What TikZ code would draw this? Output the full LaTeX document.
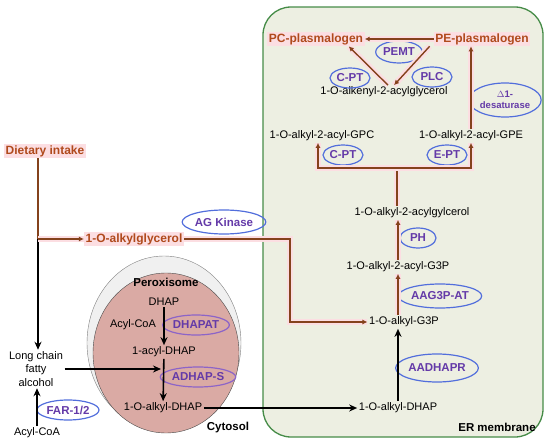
\documentclass[tikz,border=0pt]{standalone}
\usepackage{fontspec}
\setmainfont{Liberation Sans}
\usepackage{tikz}
\usetikzlibrary{arrows.meta,shapes.geometric,positioning}
\definecolor{erfill}{RGB}{237,239,226}
\definecolor{ergreen}{RGB}{70,140,72}
\definecolor{brownline}{RGB}{132,66,28}
\definecolor{plasred}{RGB}{176,74,28}
\definecolor{enzblue}{RGB}{82,110,220}
\definecolor{enzpurple}{RGB}{100,58,168}
\definecolor{enzlilac}{RGB}{140,100,200}
\definecolor{glow}{RGB}{252,222,226}
\definecolor{peroxpink}{RGB}{218,170,164}

\begin{document}
\begin{tikzpicture}[x=1pt, y=-1pt, font=\fontsize{11}{13.5}\selectfont,
	mol/.style={inner sep=1.5pt},
	plas/.style={font=\fontsize{12}{13}\selectfont\bfseries, text=plasred, fill=glow, inner sep=1.5pt},
	enz/.style={draw=enzblue, line width=1.2pt, ellipse, inner sep=0.5pt, minimum width=36pt, minimum height=20pt, font=\fontsize{11.5}{12}\selectfont\bfseries, text=enzpurple},
	blk/.style={-{Stealth[length=8pt,width=7pt]}, line width=1.6pt},
	brn/.style={-{Latex[length=5pt,width=5pt]}, draw=brownline, line width=1.4pt, preaction={draw=glow, line width=6pt, -}},
	]
				\useasboundingbox (0,0) rectangle (550,447);
				% compartments
				\node[draw=ergreen, fill=erfill, line width=1.3pt, rounded corners=28pt, minimum width=280pt, minimum height=430pt] (er) at (403,222) {};
				\node[ellipse, draw=gray, fill=gray!12, minimum width=154pt, minimum height=174pt] (perox) at (164,343) {};
				\node[ellipse, draw=gray!60!black, fill=peroxpink, minimum width=146pt, minimum height=160pt] (matrix) at (166,353) {};
				\node[font=\fontsize{11.5}{13}\selectfont\bfseries] (peroxlbl) at (166,282) {Peroxisome};
				\node[font=\fontsize{11.5}{13}\selectfont\bfseries] (cytosol) at (228,428) {Cytosol};
				\node[font=\fontsize{11.5}{13}\selectfont\bfseries] (erlbl) at (497,427) {ER membrane};
				
				% peroxisome
				\node[mol] (dhap) at (164,302) {DHAP};
				\node[mol] (acyldhap) at (164,352) {1-acyl-DHAP};
				\node[mol] (alkyldhap) at (163,408) {1-O-alkyl-DHAP};
				\node[mol] (acylcoa) at (133,325) {Acyl-CoA};
				\node[enz, draw=enzlilac] (dhapat) at (196,325) {DHAPAT};
				\node[enz, draw=enzlilac] (adhaps) at (198,377) {ADHAP-S};
				\coordinate (adhapmid) at (161,369);
				
				% cytosol
				\node[mol, align=center] (lcfa) at (36,369) {Long chain\\fatty\\alcohol};
				\node[mol] (acylcoab) at (37,433) {Acyl-CoA};
				\node[enz] (far) at (68,410) {FAR-1/2};
				\node[plas] (diet) at (45,151) {Dietary intake};
				\node[plas] (akg) at (134,239) {1-O-alkylglycerol};
				\node[enz, minimum width=72pt, minimum height=24pt] (agk) at (224,222) {AG Kinase};
				\coordinate (branch) at (38,239);
				\coordinate (akcorner) at (290,239);
				
				% ER
				\node[mol] (erdhap) at (398,408) {1-O-alkyl-DHAP};
				\node[mol] (g3p) at (404,322) {1-O-alkyl-G3P};
				\node[mol] (acylg3p) at (398,267) {1-O-alkyl-2-acyl-G3P};
				\node[mol] (dag) at (412,213) {1-O-alkyl-2-acylgylcerol};
				\node[mol] (gpc) at (322,136) {1-O-alkyl-2-acyl-GPC};
				\node[mol] (gpe) at (471,136) {1-O-alkyl-2-acyl-GPE};
				\node[mol] (alkenyl) at (384,92) {1-O-alkenyl-2-acylglycerol};
				\node[plas] (pc) at (316,39) {PC-plasmalogen};
				\node[plas] (pe) at (482,39) {PE-plasmalogen};
				\coordinate (fork) at (397,168);
				
				\node[enz, minimum width=74pt, minimum height=28pt] (aadhapr) at (437,368) {AADHAPR};
				\node[enz, minimum width=80pt, minimum height=24pt] (aag3pat) at (440,296) {AAG3P-AT};
				\node[enz] (ph) at (418,238) {PH};
				\node[enz, minimum width=40pt] (cpta) at (343,155) {C-PT};
				\node[enz, minimum width=40pt] (ept) at (447,155) {E-PT};
				\node[enz, minimum width=40pt] (cptb) at (350,78) {C-PT};
				\node[enz, minimum width=40pt] (plc) at (432,77) {PLC};
				\node[enz, minimum width=44pt, minimum height=22pt] (pemt) at (399,52) {PEMT};
				\node[enz, align=center, minimum width=66pt, minimum height=34pt, font=\fontsize{9.5}{10.5}\selectfont\bfseries] (desat) at (505,100) {$\Delta$1-\\desaturase};
				
				% connectors
				\draw[blk] (dhap) -- (acyldhap);
				\draw[blk] (acyldhap) -- (alkyldhap);
				\draw[blk] (lcfa) -- (adhapmid);
				\draw[blk] (acylcoab) -- (acylcoab |- lcfa.south);
				\draw[draw=brownline, line width=1.4pt] (diet.south -| branch) -- (branch);
				\draw[blk, line width=1.4pt] (branch) -- (branch |- lcfa.north);
				\draw[brn] (branch) -- (akg);
				\draw[brn] (akg) -- (akcorner) |- (g3p);
				\draw[blk] (alkyldhap) -- (erdhap);
				\draw[blk] (erdhap) -- (erdhap |- g3p.south);
				\draw[brn] (acylg3p |- g3p.north) -- (acylg3p);
				\draw[brn] (acylg3p) -- (acylg3p |- dag.south);
				\draw[draw=brownline, line width=1.4pt, preaction={draw=glow, line width=6pt}] (dag.north -| fork) -- (fork);
				\draw[brn] (fork) -| ([xshift=-4pt]gpc.south);
				\draw[brn] (fork) -| (gpe);
				\draw[brn] (gpe) -- (gpe |- pe.south);
				\draw[brn] (pe) -- (pc);
				\draw[brn] ([xshift=-4pt]pe.south west) -- ([xshift=10pt]alkenyl.north);
				\draw[brn] ([xshift=4pt]alkenyl.north) -- ([xshift=-16pt]pc.south east);
			\end{tikzpicture}
\end{document}
